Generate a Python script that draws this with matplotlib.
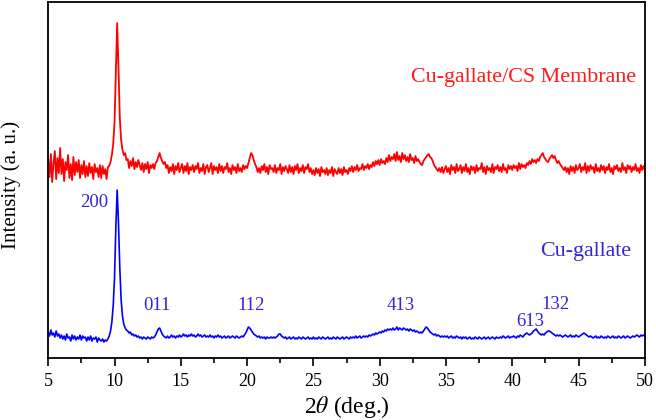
import numpy as np
import matplotlib
matplotlib.use("Agg")
import matplotlib.pyplot as plt
from matplotlib.ticker import MultipleLocator

plt.rcParams['font.family'] = ['Liberation Serif', 'DejaVu Serif']
plt.rcParams['mathtext.fontset'] = 'stix'

# 2theta grid (deg), 0.1 deg step, 5.0 .. 50.0
two_theta = np.arange(451) * 0.1 + 5.0

# Cu-gallate/CS membrane (offset trace), intensity a.u. -- one row per degree
membrane = [
    198, 181, 204, 176, 195, 207, 179, 200, 185, 210,
    184, 199, 177, 196, 188, 203, 180, 194, 178, 201,
    183, 196, 186, 198, 180, 193, 184, 197, 181, 192,
    182, 195, 185, 191, 179, 194, 186, 190, 181, 193,
    180, 192, 184, 189, 179, 191, 192, 196, 203, 214,
    235, 285, 335, 290, 240, 218, 208, 203, 205, 198,
    199, 190, 197, 192, 200, 189, 196, 191, 198, 193,
    188, 195, 186, 194, 189, 196, 185, 193, 190, 194,
    189, 195, 197, 201, 205, 200, 197, 194, 196, 190,
    193, 185, 191, 187, 194, 184, 192, 188, 195, 186,
    190, 194, 185, 192, 187, 195, 184, 191, 188, 193,
    186, 192, 189, 195, 185, 190, 187, 194, 184, 191,
    193, 186, 190, 195, 184, 192, 188, 191, 185, 194,
    187, 192, 185, 191, 189, 195, 186, 190, 184, 193,
    188, 191, 185, 194, 187, 190, 186, 193, 189, 192,
    190, 195, 200, 205, 203, 198, 194, 191, 186, 190,
    185, 192, 188, 194, 186, 191, 184, 193, 189, 190,
    186, 193, 185, 190, 188, 194, 184, 191, 187, 192,
    189, 185, 193, 186, 191, 184, 192, 188, 194, 185,
    190, 187, 193, 185, 191, 189, 194, 186, 190, 184,
    188, 183, 190, 185, 189, 182, 191, 186, 188, 184,
    190, 183, 188, 185, 191, 182, 189, 186, 184, 190,
    185, 189, 183, 191, 186, 188, 184, 190, 187, 192,
    186, 191, 188, 193, 187, 190, 189, 194, 188, 192,
    190, 194, 189, 193, 191, 196, 192, 197, 194, 198,
    193, 199, 195, 197, 194, 200, 196, 203, 197, 201,
    199, 204, 197, 206, 198, 202, 196, 205, 199, 203,
    197, 201, 196, 204, 198, 200, 195, 202, 197, 199,
    196, 194, 193, 197, 199, 201, 203, 204, 201, 200,
    197, 193, 191, 189, 187, 190, 186, 191, 185, 189,
    192, 186, 190, 184, 193, 188, 191, 185, 194, 187,
    189, 193, 185, 191, 187, 194, 186, 190, 184, 192,
    188, 191, 185, 193, 187, 190, 189, 195, 186, 191,
    184, 192, 188, 190, 186, 194, 185, 191, 189, 193,
    187, 191, 186, 194, 188, 190, 185, 193, 189, 192,
    188, 193, 190, 192, 187, 195, 189, 194, 191, 193,
    190, 195, 193, 197, 194, 199, 196, 198, 195, 199,
    197, 201, 203, 205, 201, 199, 197, 196, 199, 201,
    203, 200, 202, 198, 195, 197, 194, 192, 190, 188,
    191, 186, 190, 184, 192, 187, 191, 185, 193, 188,
    190, 194, 186, 191, 188, 195, 185, 192, 187, 193,
    189, 191, 185, 194, 187, 190, 186, 193, 188, 192,
    185, 191, 188, 194, 186, 190, 184, 192, 189, 193,
    187, 190, 186, 195, 188, 191, 185, 193, 189, 192,
    186, 191, 188, 194, 187, 190, 185, 193, 188, 192,
    189,
]

# Cu-gallate powder, intensity a.u.
gallate = [
    26, 22, 28, 23, 25, 21, 27, 22, 24, 20,
    23, 19, 22, 18, 24, 20, 21, 17, 23, 19,
    22, 18, 21, 19, 23, 18, 22, 20, 21, 17,
    21, 18, 22, 17, 20, 19, 21, 16, 20, 18,
    17, 19, 16, 18, 17, 19, 22, 27, 36, 52,
    80, 130, 168, 135, 90, 58, 42, 34, 30, 28,
    27, 25, 26, 23, 24, 22, 23, 21, 22, 20,
    21, 19, 21, 20, 19, 21, 20, 19, 21, 20,
    21, 23, 26, 29, 30, 27, 24, 22, 21, 20,
    22, 20, 21, 23, 21, 22, 20, 22, 21, 23,
    21, 22, 24, 22, 23, 21, 23, 22, 24, 22,
    23, 21, 22, 24, 22, 23, 21, 22, 23, 21,
    22, 21, 23, 21, 22, 20, 22, 21, 23, 21,
    22, 20, 21, 22, 20, 21, 22, 20, 21, 22,
    21, 20, 22, 21, 20, 21, 22, 21, 23, 25,
    28, 31, 30, 28, 26, 24, 23, 22, 21, 22,
    20, 21, 20, 21, 19, 21, 20, 20, 21, 20,
    21, 20, 21, 22, 24, 24, 22, 21, 20, 21,
    19, 20, 21, 19, 20, 21, 19, 20, 19, 21,
    20, 19, 21, 20, 19, 20, 21, 19, 20, 19,
    21, 19, 20, 19, 21, 20, 19, 21, 20, 19,
    20, 21, 19, 20, 19, 21, 20, 19, 21, 20,
    19, 20, 21, 19, 20, 21, 20, 19, 21, 20,
    21, 20, 22, 20, 21, 22, 20, 21, 22, 21,
    22, 21, 23, 22, 23, 24, 23, 25, 24, 25,
    26, 25, 27, 26, 28, 27, 29, 28, 29, 28,
    30, 28, 29, 31, 28, 30, 29, 28, 30, 29,
    28, 29, 27, 29, 28, 27, 28, 26, 27, 26,
    25, 26, 25, 27, 29, 31, 30, 28, 26, 25,
    24, 23, 24, 22, 23, 22, 21, 22, 21, 22,
    21, 22, 20, 21, 22, 20, 21, 20, 22, 21,
    20, 21, 19, 21, 20, 21, 19, 20, 21, 19,
    20, 19, 21, 20, 19, 21, 20, 19, 20, 21,
    19, 20, 21, 19, 20, 21, 20, 19, 21, 20,
    20, 21, 20, 22, 21, 20, 21, 22, 20, 21,
    21, 22, 21, 20, 22, 21, 23, 22, 21, 23,
    24, 25, 24, 23, 24, 25, 27, 28, 29, 27,
    25, 24, 23, 24, 23, 25, 26, 27, 27, 26,
    25, 24, 23, 22, 23, 22, 23, 22, 21, 22,
    23, 22, 21, 22, 23, 21, 22, 21, 23, 22,
    21, 22, 23, 24, 25, 24, 23, 22, 21, 22,
    21, 20, 21, 22, 20, 21, 20, 22, 21, 20,
    21, 20, 22, 21, 20, 21, 22, 20, 21, 20,
    22, 21, 20, 21, 22, 20, 21, 22, 21, 20,
    21, 22, 21, 22, 23, 22, 21, 23, 22, 23,
    22,
]

# hkl labels: text, 2theta, intensity (baseline)
peak_labels = ['200', '011', '112', '413', '613', '132']
peak_x = [7.4, 12.2, 19.3, 30.5, 40.3, 42.2]
peak_y = [151, 48, 48, 48, 32, 49]

fig = plt.figure(figsize=(6.56, 4.2), dpi=100)
ax = fig.add_axes([0.0735, 0.1476, 0.9095, 0.8474])

ax.plot(two_theta, membrane, color='#ff0000', lw=1.3)
ax.plot(two_theta, gallate, color='#0000ff', lw=1.2)

blue_txt = '#3326d4'
for lab, px, py in zip(peak_labels, peak_x, peak_y):
    ax.text(px, py, lab, color=blue_txt, fontsize=13.5, ha='left', va='baseline')

ax.text(32.4, 276, 'Cu-gallate/CS Membrane', color='#ff1a1a', fontsize=15.8,
        ha='left', va='baseline')
ax.text(42.1, 102, 'Cu-gallate', color=blue_txt, fontsize=15.8,
        ha='left', va='baseline')

ax.set_xlim(5, 50)
ax.set_ylim(0, 356)
ax.xaxis.set_major_locator(MultipleLocator(5))
ax.xaxis.set_minor_locator(MultipleLocator(2.5))
ax.tick_params(axis='x', which='major', direction='out', length=6, width=1.2,
               labelsize=13, pad=5)
ax.tick_params(axis='x', which='minor', direction='out', length=3.5, width=1.2)
ax.set_yticks([])
for sp in ax.spines.values():
    sp.set_linewidth(1.3)

ax.set_xlabel(r'2$\theta$ (deg.)', fontsize=17, labelpad=3)
fig.text(11 / 656, 1 - 185 / 420, 'Intensity (a. u.)', fontsize=15,
         rotation=90, ha='center', va='center')

fig.savefig('out.png', dpi=100)
